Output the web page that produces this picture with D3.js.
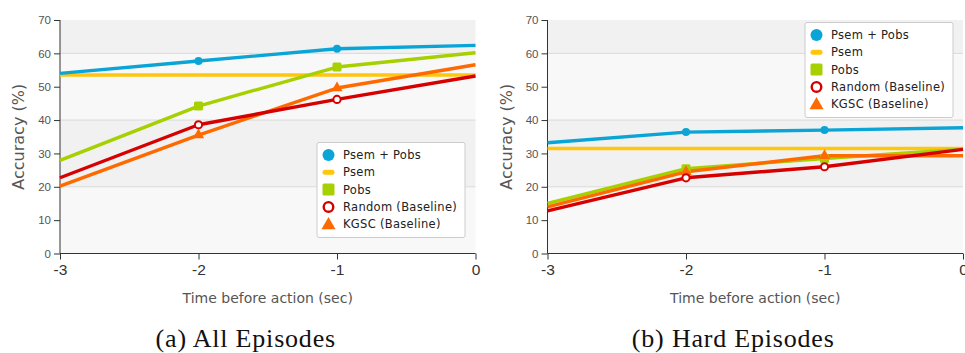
<!DOCTYPE html>
<html>
<head>
<meta charset="utf-8">
<script src="https://cdn.jsdelivr.net/npm/d3@7"></script>
<style>
  body { margin: 0; background: #fff; }
  svg { display: block; font-family: "DejaVu Sans", Verdana, sans-serif; }
</style>
</head>
<body>
<script>
var width = 965;
var height = 353;

// data
var xValues = [-3, -2, -1, 0];
var xTickLabels = ["-3", "-2", "-1", "0"];
var yTicks = [0, 10, 20, 30, 40, 50, 60, 70];
var seriesNames = ["Psem + Pobs", "Psem", "Pobs", "Random (Baseline)", "KGSC (Baseline)"];
var seriesColors = ["#0aa5d6", "#ffc60b", "#a6d000", "#d60000", "#ff6a00"];
var seriesMarks = ["dot", "bar", "square", "ring", "triangle"];

// (a) All Episodes
var allPsemPobs = [54.0, 57.7, 61.4, 62.4];
var allPsem = [53.5, 53.5, 53.5, 53.5];
var allPobs = [27.9, 44.2, 55.9, 60.2];
var allRandom = [22.7, 38.6, 46.2, 53.2];
var allKGSC = [20.2, 35.5, 49.6, 56.6];

// (b) Hard Episodes
var hardPsemPobs = [33.2, 36.4, 37.0, 37.7];
var hardPsem = [31.5, 31.5, 31.5, 31.5];
var hardPobs = [15.0, 25.4, 28.5, 31.3];
var hardRandom = [12.8, 22.7, 26.0, 31.2];
var hardKGSC = [14.0, 24.5, 29.3, 29.3];

var captions = ["(a) All Episodes", "(b) Hard Episodes"];

var svg = d3.select("body").append("svg")
    .attr("width", width)
    .attr("height", height);

function drawPanel(left, right, values, legendPos, caption) {
    var g = svg.append("g");

    var x = d3.scaleLinear().domain([-3, 0]).range([left, right]);
    var y = d3.scaleLinear().domain([0, 70]).range([253.5, 20]);

    // alternating background bands
    var bands = [[0, 20, "#f8f8f8"], [20, 40, "#f1f1f1"], [40, 60, "#f8f8f8"], [60, 70, "#f1f1f1"]];
    g.selectAll("rect.band")
        .data(bands)
        .enter()
        .append("rect")
        .attr("class", "band")
        .attr("x", left)
        .attr("width", right - left)
        .attr("y", function(d) { return y(d[1]); })
        .attr("height", function(d) { return y(d[0]) - y(d[1]); })
        .attr("fill", function(d) { return d[2]; });

    // grid lines
    g.selectAll("line.grid")
        .data([20, 40, 60])
        .enter()
        .append("line")
        .attr("x1", left).attr("x2", right)
        .attr("y1", function(d) { return y(d); })
        .attr("y2", function(d) { return y(d); })
        .attr("stroke", "#dadada")
        .attr("stroke-width", 1);

    // axes
    var yAxis = g.append("g")
        .attr("transform", "translate(" + left + ",0)")
        .call(d3.axisLeft(y).tickValues(yTicks).tickSize(6).tickPadding(3));
    yAxis.selectAll("text").attr("fill", "#555").style("font-size", "11.5px");
    yAxis.selectAll("line, path").attr("stroke", "#333");
    yAxis.select(".domain").attr("d", "M0," + y(70) + "V" + y(0));

    var xAxis = g.append("g")
        .attr("transform", "translate(0," + y(0) + ")")
        .call(d3.axisBottom(x).tickValues(xValues)
            .tickFormat(function(d, i) { return xTickLabels[i]; })
            .tickSize(6).tickPadding(4));
    xAxis.selectAll("text").attr("fill", "#333").style("font-size", "15.5px");
    xAxis.selectAll("line, path").attr("stroke", "#333");
    xAxis.select(".domain").attr("d", "M" + left + ",0H" + right);

    g.append("text")
        .attr("x", (left + right) / 2)
        .attr("y", 303)
        .attr("text-anchor", "middle")
        .attr("fill", "#555")
        .style("font-size", "14px")
        .text("Time before action (sec)");

    g.append("text")
        .attr("transform", "translate(" + (left - 36) + "," + y(35) + ") rotate(-90)")
        .attr("text-anchor", "middle")
        .attr("fill", "#555")
        .style("font-size", "16px")
        .text("Accuracy (%)");

    // lines (Psem drawn first, then the rest)
    var line = d3.line()
        .x(function(d, i) { return x(xValues[i]); })
        .y(function(d) { return y(d); });

    var order = [1, 0, 2, 4, 3];
    order.forEach(function(s) {
        g.append("path")
            .attr("d", line(values[s]))
            .attr("fill", "none")
            .attr("stroke", seriesColors[s])
            .attr("stroke-width", 3.4)
            .attr("stroke-linejoin", "round");
    });

    // markers at the inner points only
    order.forEach(function(s) {
        var pts = values[s].map(function(v, i) { return [xValues[i], v]; })
            .filter(function(p) { return p[0] > -3 && p[0] < 0; });
        drawMarks(g, pts.map(function(p) { return [x(p[0]), y(p[1])]; }), s, false);
    });

    // legend
    var lg = g.append("g").attr("transform", "translate(" + legendPos[0] + "," + legendPos[1] + ")");
    lg.append("rect")
        .attr("width", 148).attr("height", 95)
        .attr("rx", 2)
        .attr("fill", "#fff")
        .attr("stroke", "#ccc");
    seriesNames.forEach(function(name, i) {
        var cy = 12.5 + i * 17.3;
        drawMarks(lg, [[11.5, cy]], i, true);
        lg.append("text")
            .attr("x", 26)
            .attr("y", cy)
            .attr("dy", "0.35em")
            .attr("fill", "#222")
            .style("font-size", "11.5px")
            .style("letter-spacing", "0.3px")
            .text(name);
    });

    svg.append("text")
        .attr("x", (left + right) / 2 - 22)
        .attr("y", 347)
        .attr("text-anchor", "middle")
        .attr("fill", "#111")
        .style("font-family", "'Liberation Serif', 'DejaVu Serif', serif")
        .style("font-size", "26px")
        .style("letter-spacing", "0.8px")
        .text(caption);
}

function drawMarks(g, pts, s, big) {
    var color = seriesColors[s];
    var kind = seriesMarks[s];
    pts.forEach(function(p) {
        if (kind == "dot") {
            g.append("circle").attr("cx", p[0]).attr("cy", p[1])
                .attr("r", big ? 6 : 4).attr("fill", color);
        } else if (kind == "bar") {
            if (big) {
                g.append("rect").attr("x", p[0] - 6).attr("y", p[1] - 2.5)
                    .attr("width", 12).attr("height", 5).attr("rx", 2.5).attr("fill", color);
            }
        } else if (kind == "square") {
            var h = big ? 6 : 4.5;
            g.append("rect").attr("x", p[0] - h).attr("y", p[1] - h)
                .attr("width", 2 * h).attr("height", 2 * h).attr("rx", 1.5).attr("fill", color);
        } else if (kind == "ring") {
            g.append("circle").attr("cx", p[0]).attr("cy", p[1])
                .attr("r", big ? 4.8 : 3.6).attr("fill", "#fff")
                .attr("stroke", color).attr("stroke-width", big ? 2.4 : 2);
        } else if (kind == "triangle") {
            g.append("path")
                .attr("d", d3.symbol().type(d3.symbolTriangle).size(big ? 85 : 55)())
                .attr("transform", "translate(" + p[0] + "," + (p[1] + (big ? 1 : 0)) + ")")
                .attr("fill", color);
        }
    });
}

drawPanel(60, 475.5, [allPsemPobs, allPsem, allPobs, allRandom, allKGSC], [317, 142.5], captions[0]);
drawPanel(547.5, 963, [hardPsemPobs, hardPsem, hardPobs, hardRandom, hardKGSC], [805, 22.5], captions[1]);
</script>
</body>
</html>
